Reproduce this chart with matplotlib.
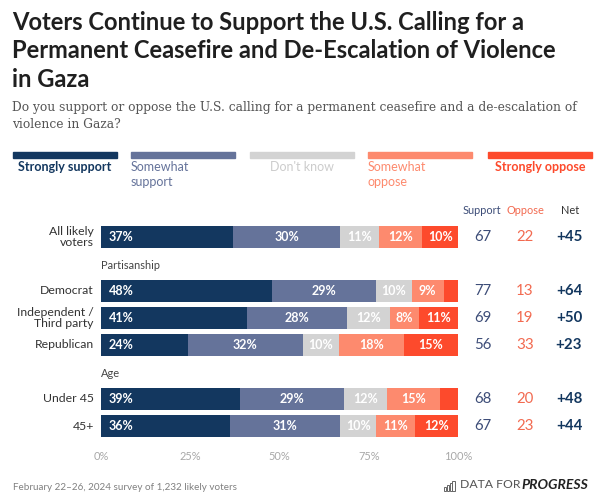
import matplotlib.pyplot as plt
from matplotlib.patches import Rectangle
from matplotlib.transforms import blended_transform_factory

# data
groups = ["All likely\nvoters", "Democrat", "Independent /\nThird party",
          "Republican", "Under 45", "45+"]
row_pos = [0, 2, 3, 4, 6, 7]
section_labels = ["Partisanship", "Age"]
section_pos = [1, 5]

strongly_support = [37, 48, 41, 24, 39, 36]
somewhat_support = [30, 29, 28, 32, 29, 31]
dont_know = [11, 10, 12, 10, 12, 10]
somewhat_oppose = [12, 9, 8, 18, 15, 11]
strongly_oppose = [10, 4, 11, 15, 5, 12]

support_total = [67, 77, 69, 56, 68, 67]
oppose_total = [22, 13, 19, 33, 20, 23]
net = ["+45", "+64", "+50", "+23", "+48", "+44"]

categories = ["Strongly support", "Somewhat\nsupport", "Don't know",
              "Somewhat\noppose", "Strongly oppose"]
colors = ["#13375f", "#65739a", "#d3d3d3", "#fd8a6e", "#fd4a2c"]
xticks = [0, 25, 50, 75, 100]

SANS = "Lato"
W, H = 600, 501


def fx(px):
    return px / W


def fy(py):
    return 1 - py / H


def pt(px):
    return px * 0.72


fig = plt.figure(figsize=(6, 5.01), dpi=100)
fig.patch.set_facecolor("white")

# title + subtitle
title_lines = ["Voters Continue to Support the U.S. Calling for a",
               "Permanent Ceasefire and De-Escalation of Violence",
               "in Gaza"]
for i, line in enumerate(title_lines):
    fig.text(fx(12), fy(30 + 28.5 * i), line, family=SANS, weight="bold",
             fontsize=pt(23.8), color="#1f1f1f", va="baseline")
sub_lines = ["Do you support or oppose the U.S. calling for a permanent ceasefire and a de-escalation of",
             "violence in Gaza?"]
for i, line in enumerate(sub_lines):
    fig.text(fx(12.5), fy(111 + 17 * i), line, family="DejaVu Serif",
             fontsize=pt(12.2), color="#555555", va="baseline")

# legend: colour strips with labels under them
leg_left = [12.7, 131, 250, 368, 488]
leg_w = 104
for i, (lab, col) in enumerate(zip(categories, colors)):
    fig.patches.append(Rectangle((fx(leg_left[i]), fy(158)), fx(leg_w), 6 / H,
                                 transform=fig.transFigure, color=col))
    two = "\n" in lab
    bold = i in (0, 4)
    txt_col = colors[i] if i != 2 else "#cccccc"
    if two:
        fig.text(fx(leg_left[i]), fy(161), lab, family=SANS, fontsize=pt(12.5),
                 color=txt_col, va="top", ha="left", linespacing=1.25)
    else:
        fig.text(fx(leg_left[i] + leg_w / 2), fy(161), lab, family=SANS,
                 fontsize=pt(12.5), color=txt_col, va="top", ha="center",
                 weight="bold" if bold else "normal")

# bar area: 0-100 spans px 101..459, rows every 27 px starting at 237
ax = fig.add_axes([fx(101), fy(439.5), fx(357), (439.5 - 223.5) / H])
ax.set_xlim(0, 100)
ax.set_ylim(7.5, -0.5)
for s in ax.spines.values():
    s.set_visible(False)
ax.set_yticks([])
ax.set_xticks(xticks)
ax.set_xticklabels([f"{t}%" for t in xticks], family=SANS, fontsize=pt(11),
                   color="#a8a8a8")
ax.tick_params(axis="x", length=0, pad=pt(11))

series = [strongly_support, somewhat_support, dont_know, somewhat_oppose, strongly_oppose]
for r, y in enumerate(row_pos):
    vals = [s[r] for s in series]
    total = sum(vals)
    left = 0
    for k, v in enumerate(vals):
        w = v * 100 / total
        ax.barh(y, w, left=left, height=0.82, color=colors[k], edgecolor="none")
        if v >= 8:
            if k == 0:
                ax.text(left + 2.2, y, f"{v}%", ha="left", va="center", color="white",
                        family=SANS, weight="bold", fontsize=pt(12.5))
            else:
                ax.text(left + w / 2, y, f"{v}%", ha="center", va="center",
                        color="white", family=SANS, weight="bold", fontsize=pt(12.5))
        left += w
    ax.text(-2, y, groups[r], ha="right", va="center", family=SANS,
            fontsize=pt(12.3), color="#333333", linespacing=1.0)

for lab, y in zip(section_labels, section_pos):
    ax.text(0, y + 0.05, lab, ha="left", va="center", family=SANS,
            fontsize=pt(11), color="#444444")

# support / oppose / net columns
tr = blended_transform_factory(fig.transFigure, ax.transData)
for r, y in enumerate(row_pos):
    ax.text(fx(483), y, str(support_total[r]), transform=tr, ha="center", va="center",
            family=SANS, fontsize=pt(15), color="#3d4d78")
    ax.text(fx(525), y, str(oppose_total[r]), transform=tr, ha="center", va="center",
            family=SANS, fontsize=pt(15), color="#f26a50")
    ax.text(fx(569), y, net[r], transform=tr, ha="center", va="center",
            family=SANS, fontsize=pt(15), color="#13375f", weight="bold")
for lab, x, col in [("Support", 482, "#3d4d78"), ("Oppose", 525, "#f26a50"),
                    ("Net", 570, "#333333")]:
    fig.text(fx(x), fy(210), lab, ha="center", va="center", family=SANS,
             fontsize=pt(11), color=col)

# footer
fig.text(fx(12.7), fy(487), "February 22\u201326, 2024 survey of 1,232 likely voters",
         family=SANS, fontsize=pt(9.9), color="#808080", va="center")
fig.text(fx(588), fy(485), "PROGRESS", family=SANS, fontsize=pt(14),
         weight="bold", style="italic", color="#222222", ha="right", va="center")
fig.text(fx(520), fy(485), "DATA FOR", family=SANS, fontsize=pt(12.2),
         color="#555555", ha="right", va="center")
# small bar-chart logo icon
for i, h in enumerate([4, 6, 8, 10]):
    fig.patches.append(Rectangle((fx(444 + 2.8 * i), fy(491)), fx(2.2), h / H,
                                 transform=fig.transFigure, fill=False,
                                 edgecolor="#666666", lw=0.7))

fig.savefig("out.png", dpi=100, facecolor="white")
